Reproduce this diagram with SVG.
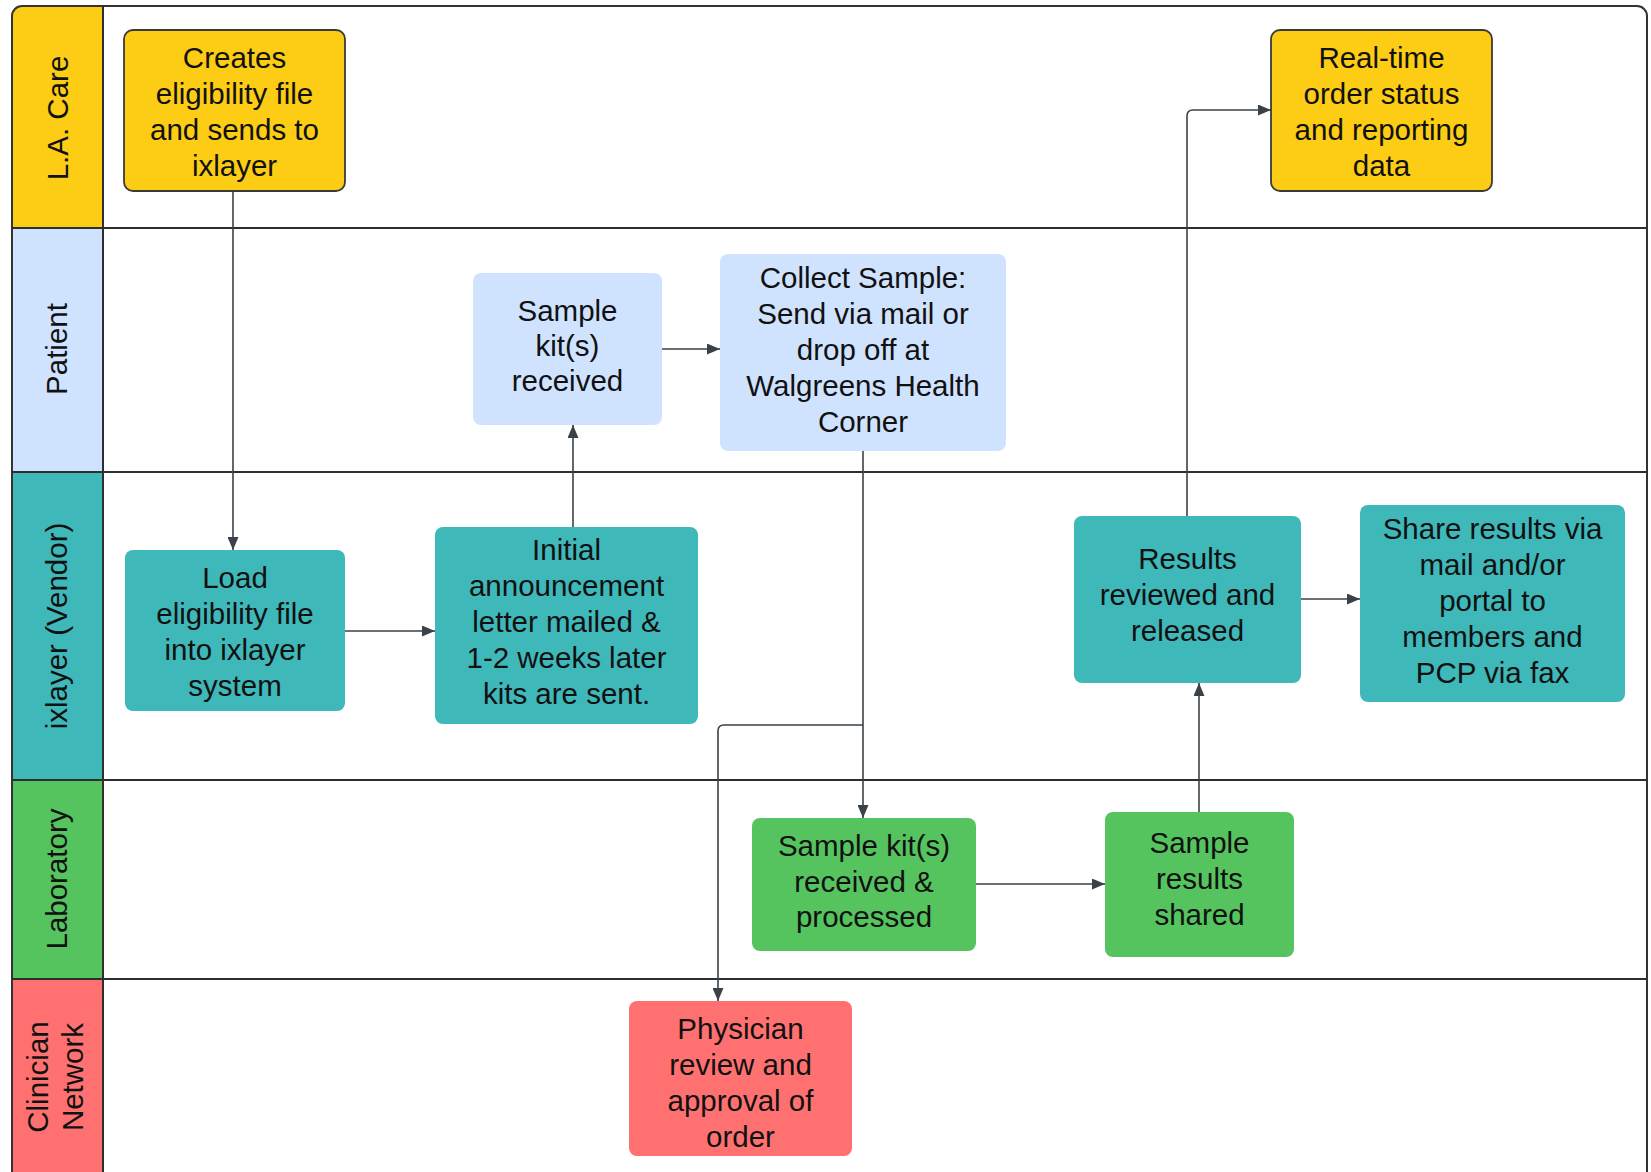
<svg xmlns="http://www.w3.org/2000/svg" width="1651" height="1172" viewBox="0 0 1651 1172">
<style>
.t{font-family:"Liberation Sans",Arial,sans-serif;font-size:29.5px;fill:#111;text-anchor:middle}
.lane{stroke:#2e2e2e;stroke-width:2}
.bd{stroke:#333;stroke-width:2;fill:none}
.c{fill:none;stroke:#3b4149;stroke-width:1.6}
.y{fill:#FCCD14}
.b{fill:#CFE3FE}
.tl{fill:#3FB8BA}
.g{fill:#55C45F}
.r{fill:#FF7171}
.ny{fill:#FCCD14;stroke:#3a3a3a;stroke-width:1.8}
</style>
<defs>
<marker id="ah" markerWidth="13" markerHeight="11" refX="13" refY="5.5" orient="auto" markerUnits="userSpaceOnUse">
<path d="M0,0 L13,5.5 L0,11 Z" fill="#3b4149"/>
</marker>
<clipPath id="fr"><rect x="12" y="6" width="1635" height="1190" rx="10"/></clipPath>
</defs>
<rect width="1651" height="1172" fill="#fff"/>
<g id="lanes">
<g clip-path="url(#fr)">
<rect class="y" x="12" y="6" width="91" height="222"/>
<rect class="b" x="12" y="228" width="91" height="244"/>
<rect class="tl" x="12" y="472" width="91" height="308"/>
<rect class="g" x="12" y="780" width="91" height="199"/>
<rect class="r" x="12" y="979" width="91" height="220"/>
</g>
<rect class="bd" x="12" y="6" width="1635" height="1190" rx="10"/>
<line class="lane" x1="103" y1="6" x2="103" y2="1172"/>
<line class="lane" x1="12" y1="228" x2="1647" y2="228"/>
<line class="lane" x1="12" y1="472" x2="1647" y2="472"/>
<line class="lane" x1="12" y1="780" x2="1647" y2="780"/>
<line class="lane" x1="12" y1="979" x2="1647" y2="979"/>
<text class="t" transform="translate(67.5,118) rotate(-90)">L.A. Care</text>
<text class="t" transform="translate(67,349) rotate(-90)">Patient</text>
<text class="t" transform="translate(67,626) rotate(-90)">ixlayer (Vendor)</text>
<text class="t" transform="translate(67,879) rotate(-90)">Laboratory</text>
<text class="t" transform="translate(48,1077) rotate(-90)">Clinician</text>
<text class="t" transform="translate(83,1077) rotate(-90)">Network</text>
</g>
<g id="connectors">
<path class="c" d="M233,191 L233,550" marker-end="url(#ah)"/>
<path class="c" d="M345,631 L435,631" marker-end="url(#ah)"/>
<path class="c" d="M573,527 L573,425" marker-end="url(#ah)"/>
<path class="c" d="M662,349 L720,349" marker-end="url(#ah)"/>
<path class="c" d="M863,451 L863,818" marker-end="url(#ah)"/>
<path class="c" d="M863,725 L724,725 Q718,725 718,731 L718,1001" marker-end="url(#ah)"/>
<path class="c" d="M976,884 L1105,884" marker-end="url(#ah)"/>
<path class="c" d="M1199,812 L1199,683" marker-end="url(#ah)"/>
<path class="c" d="M1187,516 L1187,116 Q1187,110 1193,110 L1271,110" marker-end="url(#ah)"/>
<path class="c" d="M1301,599 L1360,599" marker-end="url(#ah)"/>
</g>
<g id="n-creates">
<rect class="ny" x="124" y="30" width="221" height="161" rx="9"/>
<text class="t" x="234.5" y="68">Creates</text>
<text class="t" x="234.5" y="104">eligibility file</text>
<text class="t" x="234.5" y="140">and sends to</text>
<text class="t" x="234.5" y="176">ixlayer</text>
</g>
<g id="n-realtime">
<rect class="ny" x="1271" y="30" width="221" height="161" rx="9"/>
<text class="t" x="1381.5" y="68">Real-time</text>
<text class="t" x="1381.5" y="104">order status</text>
<text class="t" x="1381.5" y="140">and reporting</text>
<text class="t" x="1381.5" y="176">data</text>
</g>
<g id="n-kit">
<rect class="b" x="473" y="273" width="189" height="152" rx="8"/>
<text class="t" x="567.5" y="321">Sample</text>
<text class="t" x="567.5" y="356">kit(s)</text>
<text class="t" x="567.5" y="391">received</text>
</g>
<g id="n-collect">
<rect class="b" x="720" y="254" width="286" height="197" rx="8"/>
<text class="t" x="863" y="288">Collect Sample:</text>
<text class="t" x="863" y="324">Send via mail or</text>
<text class="t" x="863" y="360">drop off at</text>
<text class="t" x="863" y="396">Walgreens Health</text>
<text class="t" x="863" y="432">Corner</text>
</g>
<g id="n-load">
<rect class="tl" x="125" y="550" width="220" height="161" rx="8"/>
<text class="t" x="235" y="588">Load</text>
<text class="t" x="235" y="624">eligibility file</text>
<text class="t" x="235" y="660">into ixlayer</text>
<text class="t" x="235" y="696">system</text>
</g>
<g id="n-initial">
<rect class="tl" x="435" y="527" width="263" height="197" rx="8"/>
<text class="t" x="566.5" y="560">Initial</text>
<text class="t" x="566.5" y="596">announcement</text>
<text class="t" x="566.5" y="632">letter mailed &amp;</text>
<text class="t" x="566.5" y="668">1-2 weeks later</text>
<text class="t" x="566.5" y="704">kits are sent.</text>
</g>
<g id="n-results">
<rect class="tl" x="1074" y="516" width="227" height="167" rx="8"/>
<text class="t" x="1187.5" y="569">Results</text>
<text class="t" x="1187.5" y="605">reviewed and</text>
<text class="t" x="1187.5" y="641">released</text>
</g>
<g id="n-share">
<rect class="tl" x="1360" y="505" width="265" height="197" rx="8"/>
<text class="t" x="1492.5" y="539">Share results via</text>
<text class="t" x="1492.5" y="575">mail and/or</text>
<text class="t" x="1492.5" y="611">portal to</text>
<text class="t" x="1492.5" y="647">members and</text>
<text class="t" x="1492.5" y="683">PCP via fax</text>
</g>
<g id="n-labkit">
<rect class="g" x="752" y="818" width="224" height="133" rx="8"/>
<text class="t" x="864" y="856">Sample kit(s)</text>
<text class="t" x="864" y="892">received &amp;</text>
<text class="t" x="864" y="927">processed</text>
</g>
<g id="n-shared">
<rect class="g" x="1105" y="812" width="189" height="145" rx="8"/>
<text class="t" x="1199.5" y="853">Sample</text>
<text class="t" x="1199.5" y="889">results</text>
<text class="t" x="1199.5" y="925">shared</text>
</g>
<g id="n-physician">
<rect class="r" x="629" y="1001" width="223" height="155" rx="8"/>
<text class="t" x="740.5" y="1039">Physician</text>
<text class="t" x="740.5" y="1075">review and</text>
<text class="t" x="740.5" y="1111">approval of</text>
<text class="t" x="740.5" y="1147">order</text>
</g>
</svg>
